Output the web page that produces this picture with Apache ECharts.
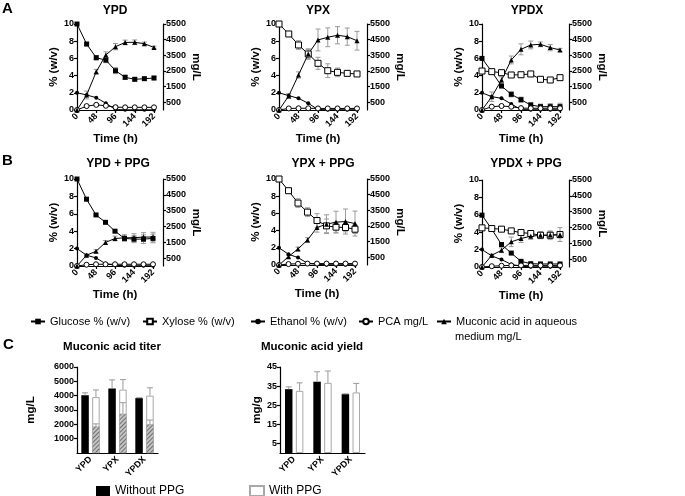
<!DOCTYPE html>
<html><head><meta charset="utf-8">
<script src="https://cdn.jsdelivr.net/npm/echarts@6/dist/echarts.min.js"></script>
<style>html,body{margin:0;padding:0;background:#fff}#c{width:685px;height:496px}</style>
</head><body><div id="c"></div>
<script>
// ---------------- DATA ----------------
const time = [0, 24, 48, 72, 96, 120, 144, 168, 192];
const timeTicks = [0, 48, 96, 144, 192];
const mgTicks = [500, 1500, 2500, 3500, 4500, 5500];

// A - YPD
const a_ypd_glc = [10, 7.67, 6.08, 5.8, 4.57, 3.8, 3.57, 3.64, 3.72];
const a_ypd_glc_err = [0, 0.2, 0.25, 0.3, 0.35, 0.25, 0.2, 0.2, 0.2];
const a_ypd_eth = [2.0, 1.75, 1.43, 0.78, 0.05, 0.02, 0.02, 0.02, 0.02];
const a_ypd_pca = [0, 250, 330, 270, 180, 170, 170, 170, 170];
const a_ypd_mua = [0, 960, 2450, 3520, 4050, 4320, 4330, 4240, 4000];
const a_ypd_mua_err = [0, 250, 150, 200, 200, 150, 150, 100, 80];
// A - YPX
const a_ypx_xyl = [10, 8.84, 7.56, 6.51, 5.43, 4.57, 4.38, 4.26, 4.19];
const a_ypx_xyl_err = [0, 0.2, 0.5, 0.6, 0.7, 0.8, 0.5, 0.3, 0.2];
const a_ypx_eth = [2.0, 1.67, 1.36, 0.78, 0.05, 0.03, 0.03, 0.03, 0.03];
const a_ypx_pca = [0, 100, 110, 110, 100, 100, 100, 100, 100];
const a_ypx_mua = [0, 900, 2240, 3580, 4480, 4650, 4780, 4690, 4430];
const a_ypx_mua_err = [0, 150, 200, 300, 700, 600, 550, 550, 600];
// A - YPDX
const a_ypdx_glc = [6.0, 4.46, 2.79, 1.82, 1.2, 0.58, 0.39, 0.39, 0.39];
const a_ypdx_glc_err = [0, 0.2, 0.2, 0.3, 0.3, 0.3, 0.3, 0.35, 0.4];
const a_ypdx_xyl = [4.53, 4.46, 4.34, 4.07, 4.1, 4.19, 3.57, 3.49, 3.76];
const a_ypdx_xyl_err = [0, 0.2, 0.2, 0.1, 0.1, 0.3, 0.2, 0.1, 0.1];
const a_ypdx_eth = [2.0, 1.55, 1.36, 0.7, 0.05, 0.03, 0.03, 0.03, 0.03];
const a_ypdx_pca = [0, 210, 256, 210, 120, 110, 110, 110, 110];
const a_ypdx_mua = [0, 850, 1920, 3200, 3880, 4160, 4200, 3990, 3840];
const a_ypdx_mua_err = [0, 300, 200, 250, 350, 250, 150, 200, 100];
// B - YPD + PPG
const b_ypd_glc = [10, 7.68, 5.87, 5.02, 4.0, 3.17, 3.09, 3.09, 3.17];
const b_ypd_glc_err = [0, 0.1, 0.1, 0.1, 0.1, 0.3, 0.4, 0.5, 0.5];
const b_ypd_eth = [2.0, 1.24, 0.93, 0.27, 0.08, 0.03, 0.03, 0.03, 0.03];
const b_ypd_pca = [0, 80, 110, 110, 110, 110, 110, 110, 110];
const b_ypd_mua = [0, 680, 930, 1490, 1740, 1780, 1790, 1830, 1830];
const b_ypd_mua_err = [0, 60, 100, 120, 150, 200, 250, 280, 300];
// B - YPX + PPG
const b_ypx_xyl = [10, 8.64, 7.2, 6.15, 5.17, 4.55, 4.4, 4.36, 4.16];
const b_ypx_xyl_err = [0, 0.2, 0.5, 0.5, 0.8, 0.8, 0.6, 0.5, 0.5];
const b_ypx_eth = [2.0, 1.25, 0.86, 0.2, 0.08, 0.03, 0.03, 0.03, 0.03];
const b_ypx_pca = [0, 60, 80, 90, 90, 90, 90, 90, 90];
const b_ypx_mua = [0, 535, 1030, 1600, 2400, 2610, 2740, 2780, 2650];
const b_ypx_mua_err = [0, 80, 120, 150, 300, 600, 700, 800, 800];
// B - YPDX + PPG
const b_ypdx_glc = [5.96, 4.35, 2.58, 1.6, 0.65, 0.38, 0.35, 0.35, 0.35];
const b_ypdx_glc_err = [0, 0.1, 0.1, 0.1, 0.1, 0.1, 0.1, 0.1, 0.1];
const b_ypdx_xyl = [4.5, 4.42, 4.35, 4.15, 3.96, 3.85, 3.65, 3.65, 3.73];
const b_ypdx_xyl_err = [0, 0.1, 0.1, 0.1, 0.1, 0.3, 0.4, 0.5, 0.8];
const b_ypdx_eth = [2.0, 1.27, 0.85, 0.3, 0.08, 0.03, 0.03, 0.03, 0.03];
const b_ypdx_pca = [0, 50, 80, 100, 100, 100, 100, 100, 100];
const b_ypdx_mua = [0, 740, 1060, 1590, 1800, 1950, 2000, 2020, 2040];
const b_ypdx_mua_err = [0, 80, 150, 300, 250, 200, 200, 200, 200];

// C - bars
const media = ['YPD', 'YPX', 'YPDX'];
const titerTicks = [1000, 2000, 3000, 4000, 5000, 6000];
const titer_without = [4030, 4500, 3830];
const titer_without_err = [170, 600, 30];
const titer_with = [3900, 4420, 4000];
const titer_with_err = [500, 700, 550];
const titer_with_aq = [1850, 2730, 2000];
const titer_with_aq_err = [180, 780, 300];
const yieldTicks = [5, 15, 25, 35, 45];
const yield_without = [33.4, 37.3, 30.8];
const yield_without_err = [1.2, 5.2, 0.2];
const yield_with = [32.5, 36.7, 31.7];
const yield_with_err = [4.2, 6.2, 4.7];

// ---------------- FONTS ----------------
function hasFont(f) {
  const c = document.createElement('canvas').getContext('2d');
  const s = 'Muconic acid in aqueous 5500';
  c.font = '12px "' + f + '", monospace'; const a = c.measureText(s).width;
  c.font = '12px monospace'; const b = c.measureText(s).width;
  return Math.abs(a - b) > 0.5;
}
const NARROW_OK = hasFont('Liberation Sans Narrow');
const FONT = '"Liberation Sans", Arial, sans-serif';
const NFONT = NARROW_OK ? '"Liberation Sans Narrow", "Liberation Sans", Arial, sans-serif' : FONT;
const TICK_FS = NARROW_OK ? 11 : 9;
const LEG_FS = 11;

// ---------------- LAYOUT ----------------
const panels = [
  {grid: {left: 77, top: 24, width: 77, height: 86}, off: 9, title: 'YPD', tx: 115, ty: 11,
   s: [['glc', a_ypd_glc, a_ypd_glc_err], ['eth', a_ypd_eth], ['pca', a_ypd_pca], ['mua', a_ypd_mua, a_ypd_mua_err]]},
  {grid: {left: 279, top: 24, width: 78, height: 86}, off: 10, title: 'YPX', tx: 318, ty: 11,
   s: [['xyl', a_ypx_xyl, a_ypx_xyl_err], ['eth', a_ypx_eth], ['pca', a_ypx_pca], ['mua', a_ypx_mua, a_ypx_mua_err]]},
  {grid: {left: 482, top: 24, width: 78, height: 86}, off: 9, title: 'YPDX', tx: 527, ty: 11,
   s: [['glc', a_ypdx_glc, a_ypdx_glc_err], ['xyl', a_ypdx_xyl, a_ypdx_xyl_err], ['eth', a_ypdx_eth], ['pca', a_ypdx_pca], ['mua', a_ypdx_mua, a_ypdx_mua_err]]},
  {grid: {left: 77, top: 179, width: 76, height: 87}, off: 10, title: 'YPD + PPG', tx: 118, ty: 164,
   s: [['glc', b_ypd_glc, b_ypd_glc_err], ['eth', b_ypd_eth], ['pca', b_ypd_pca], ['mua', b_ypd_mua, b_ypd_mua_err]]},
  {grid: {left: 279, top: 179, width: 76, height: 86}, off: 12, title: 'YPX + PPG', tx: 323, ty: 164,
   s: [['xyl', b_ypx_xyl, b_ypx_xyl_err], ['eth', b_ypx_eth], ['pca', b_ypx_pca], ['mua', b_ypx_mua, b_ypx_mua_err]]},
  {grid: {left: 482, top: 180, width: 78, height: 87}, off: 9, title: 'YPDX + PPG', tx: 526, ty: 164,
   s: [['glc', b_ypdx_glc, b_ypdx_glc_err], ['xyl', b_ypdx_xyl, b_ypdx_xyl_err], ['eth', b_ypdx_eth], ['pca', b_ypdx_pca], ['mua', b_ypdx_mua, b_ypdx_mua_err]]}
];

const styles = {
  glc: {name: 'Glucose % (w/v)', symbol: 'rect', size: 5, fill: '#000', right: false},
  xyl: {name: 'Xylose % (w/v)', symbol: 'rect', size: 6, fill: '#fff', right: false},
  eth: {name: 'Ethanol % (w/v)', symbol: 'circle', size: 4, fill: '#000', right: false},
  pca: {name: 'PCA mg/L', symbol: 'circle', size: 5, fill: '#fff', right: true},
  mua: {name: 'Muconic acid in aqueous medium mg/L', symbol: 'triangle', size: 5, fill: '#000', right: true}
};

const axLine = {show: true, lineStyle: {color: '#000', width: 1.2}};
const axTick = {show: true, length: 3, lineStyle: {color: '#000', width: 1.2}};
const tickLabel = {fontSize: TICK_FS, fontWeight: 'bold', color: '#000', fontFamily: NFONT, formatter: v => String(v)};
const nameStyle = {fontSize: 11.5, fontWeight: 'bold', color: '#000', fontFamily: FONT};

const grids = [], xAxes = [], yAxes = [], series = [];

function lineErr(xi, yi, vals, errs) {
  const d = [];
  vals.forEach((v, i) => { if (errs[i] > 0) d.push([time[i], v - errs[i], v + errs[i]]); });
  return {
    type: 'custom', xAxisIndex: xi, yAxisIndex: yi, silent: true, z: 2, animation: false,
    encode: {x: 0, y: [1, 2]}, data: d,
    renderItem: (p, api) => {
      const lo = api.coord([api.value(0), api.value(1)]);
      const hi = api.coord([api.value(0), api.value(2)]);
      const w = 2.5, st = {stroke: '#9a9a9a', lineWidth: 1};
      return {type: 'group', children: [
        {type: 'line', shape: {x1: lo[0], y1: lo[1], x2: hi[0], y2: hi[1]}, style: st},
        {type: 'line', shape: {x1: lo[0] - w, y1: lo[1], x2: lo[0] + w, y2: lo[1]}, style: st},
        {type: 'line', shape: {x1: hi[0] - w, y1: hi[1], x2: hi[0] + w, y2: hi[1]}, style: st}
      ]};
    }
  };
}

panels.forEach((p, i) => {
  grids.push(Object.assign({containLabel: false}, p.grid));
  xAxes.push({
    gridIndex: i, type: 'value', min: 0, max: 192, interval: 48,
    axisLine: axLine, axisTick: axTick, splitLine: {show: false},
    axisLabel: Object.assign({rotate: 45, margin: 5}, tickLabel),
    name: 'Time (h)', nameLocation: 'middle', nameGap: 23, nameTextStyle: nameStyle
  });
  yAxes.push({
    gridIndex: i, type: 'value', position: 'left', min: 0, max: 10, interval: 2,
    axisLine: axLine, axisTick: axTick, splitLine: {show: false},
    axisLabel: Object.assign({margin: 3}, tickLabel),
    name: '% (w/v)', nameLocation: 'middle', nameGap: 17, nameTextStyle: nameStyle
  });
  yAxes.push({
    gridIndex: i, type: 'value', position: 'right', offset: p.off, min: 0, max: 5500,
    axisLine: axLine, axisTick: Object.assign({customValues: mgTicks}, axTick), splitLine: {show: false},
    axisLabel: Object.assign({margin: 3, customValues: mgTicks}, tickLabel),
    name: 'mg/L', nameLocation: 'middle', nameRotate: -90, nameGap: 24, nameTextStyle: nameStyle
  });
  p.s.forEach(([k, vals, errs]) => {
    const st = styles[k];
    const yi = st.right ? 2 * i + 1 : 2 * i;
    if (errs) series.push(lineErr(i, yi, vals, errs));
    series.push({
      type: 'line', name: st.name, xAxisIndex: i, yAxisIndex: yi,
      data: time.map((t, j) => [t, vals[j]]),
      symbol: st.symbol, symbolSize: st.size, showSymbol: true, animation: false,
      lineStyle: {color: '#000', width: 1},
      itemStyle: {color: st.fill, borderColor: '#000', borderWidth: st.fill === '#fff' ? 1 : 0},
      emphasis: {disabled: true}, z: 3
    });
  });
});

// ---------------- BAR CHARTS ----------------
const BAR_W = 7.5, BAR_GAP = 0.45;
const BAR_OFF = BAR_W * (1 + BAR_GAP) / 2;
const gT = grids.length; grids.push({left: 77, top: 367, width: 81, height: 86});
const gY = grids.length; grids.push({left: 280, top: 367, width: 85, height: 86});

function catAxis(g, show) {
  return {
    gridIndex: g, type: 'category', data: media, show: show,
    axisLine: axLine, axisTick: {show: false}, splitLine: {show: false},
    axisLabel: Object.assign({rotate: 45, margin: 5}, tickLabel, {formatter: null})
  };
}
const xT = xAxes.length; xAxes.push(catAxis(gT, true));
const xT2 = xAxes.length; xAxes.push(catAxis(gT, false));
const xY = xAxes.length; xAxes.push(catAxis(gY, true));

const yT = yAxes.length; yAxes.push({
  gridIndex: gT, type: 'value', min: 0, max: 6000,
  axisLine: axLine, axisTick: Object.assign({customValues: titerTicks}, axTick), splitLine: {show: false},
  axisLabel: Object.assign({margin: 3, customValues: titerTicks}, tickLabel),
  name: 'mg/L', nameLocation: 'middle', nameGap: 40, nameTextStyle: nameStyle
});
const yY = yAxes.length; yAxes.push({
  gridIndex: gY, type: 'value', min: 0, max: 45,
  axisLine: axLine, axisTick: Object.assign({customValues: yieldTicks}, axTick), splitLine: {show: false},
  axisLabel: Object.assign({margin: 3, customValues: yieldTicks}, tickLabel),
  name: 'mg/g', nameLocation: 'middle', nameGap: 17, nameTextStyle: nameStyle
});

const blackBar = {color: '#000'};
const whiteBar = {color: '#fff', borderColor: '#a8a8a8', borderWidth: 1};
const hatchBar = {color: '#c4c4c4', borderColor: '#a8a8a8', borderWidth: 0.5,
  decal: {symbol: 'rect', symbolSize: 1, dashArrayX: [1, 0], dashArrayY: [1, 1.4], rotation: -Math.PI / 4, color: '#6e6e6e'}};

function bar(name, xi, yi, data, style, z) {
  return {type: 'bar', name: name, xAxisIndex: xi, yAxisIndex: yi, data: data,
    barWidth: BAR_W, barGap: (BAR_GAP * 100) + '%', itemStyle: style, animation: false,
    emphasis: {disabled: true}, z: z || 2};
}
function barErr(xi, yi, vals, errs, side) {
  return {
    type: 'custom', xAxisIndex: xi, yAxisIndex: yi, silent: true, z: 6, animation: false,
    encode: {x: 0, y: [1, 2]},
    data: vals.map((v, i) => [i, v, v + errs[i]]),
    renderItem: (p, api) => {
      const a = api.coord([api.value(0), api.value(1)]);
      const b = api.coord([api.value(0), api.value(2)]);
      const x = a[0] + side * BAR_OFF, w = 3, st = {stroke: '#9a9a9a', lineWidth: 1};
      return {type: 'group', children: [
        {type: 'line', shape: {x1: x, y1: a[1], x2: x, y2: b[1]}, style: st},
        {type: 'line', shape: {x1: x - w, y1: b[1], x2: x + w, y2: b[1]}, style: st}
      ]};
    }
  };
}

series.push(bar('Without PPG', xT, yT, titer_without, blackBar));
series.push(bar('With PPG', xT, yT, titer_with, whiteBar));
series.push(bar('_slot', xT2, yT, media.map(() => '-'), blackBar));
series.push(bar('With PPG (aqueous)', xT2, yT, titer_with_aq, hatchBar, 4));
series.push(barErr(xT, yT, titer_without, titer_without_err, -1));
series.push(barErr(xT, yT, titer_with, titer_with_err, 1));
series.push(barErr(xT, yT, titer_with_aq, titer_with_aq_err, 1));

series.push(bar('Without PPG', xY, yY, yield_without, blackBar));
series.push(bar('With PPG', xY, yY, yield_with, whiteBar));
series.push(barErr(xY, yY, yield_without, yield_without_err, -1));
series.push(barErr(xY, yY, yield_with, yield_with_err, 1));

// ---------------- LEGENDS ----------------
function leg(name, left, top, opts) {
  return Object.assign({
    data: [name], left: left, top: top, orient: 'horizontal', selectedMode: false,
    itemWidth: 14, itemHeight: 7, itemGap: 0, padding: 0,
    textStyle: {fontSize: LEG_FS, color: '#000', fontFamily: FONT}
  }, opts || {});
}
const LEG_TOP = 316;
const MUC_LEFT = 436;
const legends = [
  leg('Glucose % (w/v)', 30, LEG_TOP),
  leg('Xylose % (w/v)', 142, LEG_TOP),
  leg('Ethanol % (w/v)', 250, LEG_TOP),
  leg('PCA mg/L', 358, LEG_TOP),
  leg('Muconic acid in aqueous medium mg/L', MUC_LEFT, LEG_TOP, {formatter: () => 'Muconic acid in aqueous'}),
  leg('Without PPG', 96, 485, {icon: 'rect', itemHeight: 10, textStyle: {fontSize: 12, color: '#000', fontFamily: FONT}}),
  leg('With PPG', 249, 485, {icon: 'rect', itemHeight: 10, textStyle: {fontSize: 12, color: '#000', fontFamily: FONT}})
];

// ---------------- TEXT ----------------
function txt(t, x, y, font, align) {
  return {type: 'text', x: x, y: y, silent: true,
    style: {text: t, font: font, fill: '#000', textAlign: align || 'center', textVerticalAlign: 'middle',
      align: align || 'center', verticalAlign: 'middle'}};
}
const TF = 'bold 12px ' + FONT;
const graphics = [
  txt('A', 2, 9, 'bold 15px ' + FONT, 'left'),
  txt('B', 2, 161, 'bold 15px ' + FONT, 'left'),
  txt('C', 3, 345, 'bold 15px ' + FONT, 'left'),
  txt('Muconic acid titer', 112, 347, 'bold 11.5px ' + FONT),
  txt('Muconic acid yield', 312, 347, 'bold 11.5px ' + FONT),
  txt('medium mg/L', MUC_LEFT + 14 + 5, 337, LEG_FS + 'px ' + FONT, 'left')
];
panels.forEach(p => graphics.push(txt(p.title, p.tx, p.ty, TF)));

const chart = echarts.init(document.getElementById('c'), null, {renderer: 'canvas'});
chart.setOption({
  backgroundColor: '#fff',
  animation: false,
  textStyle: {fontFamily: FONT},
  grid: grids, xAxis: xAxes, yAxis: yAxes, series: series,
  legend: legends, graphic: graphics
});
</script></body></html>
